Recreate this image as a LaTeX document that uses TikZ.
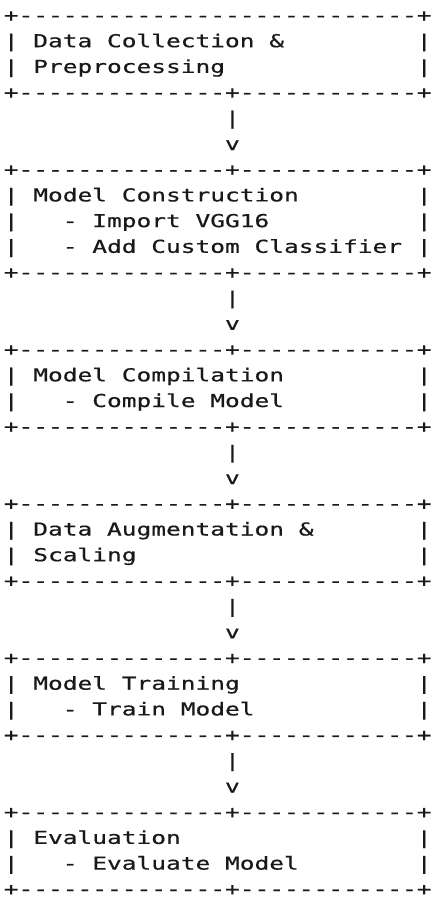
\documentclass[tikz,border=0pt]{standalone}
\usepackage{fontspec}
\setmonofont[FakeStretch=1.3764,FakeBold=0.6]{DejaVu Sans Mono}
\definecolor{ink}{RGB}{25,25,25}
\newcommand\asc[4]{\node[txt] (#1) at ({3.8+14.75*(#2)},{-21.5-25.7*(#3)}) {#4};}
\newcommand\tline{+---------------------------+}
\newcommand\jline{+--------------+------------+}
\begin{document}
\begin{tikzpicture}[x=1pt,y=1pt,
  txt/.style={anchor=base west, inner sep=0pt, outer sep=0pt, text=ink,
    font=\ttfamily\fontsize{17.8}{20}\selectfont}]
\useasboundingbox (0,0) rectangle (432,-898);
% Box 1
\asc{b1top}{0}{0}{\tline}
\asc{b1l1}{0}{1}{|}\asc{b1t1}{2}{1}{Data Collection \&}\asc{b1r1}{28}{1}{|}
\asc{b1l2}{0}{2}{|}\asc{b1t2}{2}{2}{Preprocessing}\asc{b1r2}{28}{2}{|}
\asc{b1bot}{0}{3}{\jline}
\asc{c1bar}{15}{4}{|}\asc{c1tip}{15}{5}{v}
% Box 2
\asc{b2top}{0}{6}{\jline}
\asc{b2l1}{0}{7}{|}\asc{b2t1}{2}{7}{Model Construction}\asc{b2r1}{28}{7}{|}
\asc{b2l2}{0}{8}{|}\asc{b2t2}{4}{8}{- Import VGG16}\asc{b2r2}{28}{8}{|}
\asc{b2l3}{0}{9}{|}\asc{b2t3}{4}{9}{- Add Custom Classifier}\asc{b2r3}{28}{9}{|}
\asc{b2bot}{0}{10}{\jline}
\asc{c2bar}{15}{11}{|}\asc{c2tip}{15}{12}{v}
% Box 3
\asc{b3top}{0}{13}{\jline}
\asc{b3l1}{0}{14}{|}\asc{b3t1}{2}{14}{Model Compilation}\asc{b3r1}{28}{14}{|}
\asc{b3l2}{0}{15}{|}\asc{b3t2}{4}{15}{- Compile Model}\asc{b3r2}{28}{15}{|}
\asc{b3bot}{0}{16}{\jline}
\asc{c3bar}{15}{17}{|}\asc{c3tip}{15}{18}{v}
% Box 4
\asc{b4top}{0}{19}{\jline}
\asc{b4l1}{0}{20}{|}\asc{b4t1}{2}{20}{Data Augmentation \&}\asc{b4r1}{28}{20}{|}
\asc{b4l2}{0}{21}{|}\asc{b4t2}{2}{21}{Scaling}\asc{b4r2}{28}{21}{|}
\asc{b4bot}{0}{22}{\jline}
\asc{c4bar}{15}{23}{|}\asc{c4tip}{15}{24}{v}
% Box 5
\asc{b5top}{0}{25}{\jline}
\asc{b5l1}{0}{26}{|}\asc{b5t1}{2}{26}{Model Training}\asc{b5r1}{28}{26}{|}
\asc{b5l2}{0}{27}{|}\asc{b5t2}{4}{27}{- Train Model}\asc{b5r2}{28}{27}{|}
\asc{b5bot}{0}{28}{\jline}
\asc{c5bar}{15}{29}{|}\asc{c5tip}{15}{30}{v}
% Box 6
\asc{b6top}{0}{31}{\jline}
\asc{b6l1}{0}{32}{|}\asc{b6t1}{2}{32}{Evaluation}\asc{b6r1}{28}{32}{|}
\asc{b6l2}{0}{33}{|}\asc{b6t2}{4}{33}{- Evaluate Model}\asc{b6r2}{28}{33}{|}
\asc{b6bot}{0}{34}{\jline}
\end{tikzpicture}
\end{document}
